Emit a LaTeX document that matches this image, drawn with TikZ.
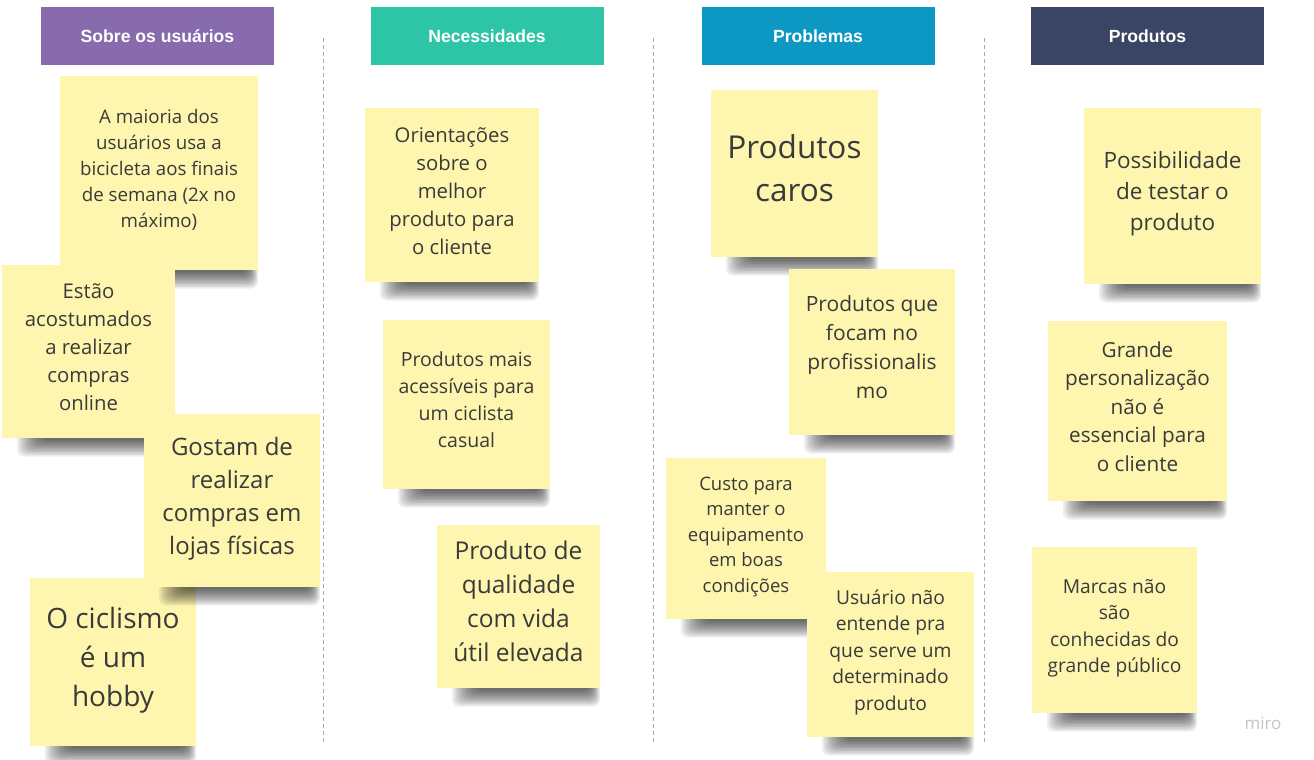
\documentclass[tikz,border=0pt]{standalone}
\usepackage{fontspec}
\setmainfont{Open Sans}
\newfontfamily\hdrfont{Liberation Sans}
\usetikzlibrary{calc}
\definecolor{stickyY}{HTML}{FEF6AF}
\definecolor{stickyT}{HTML}{3A3A3A}
\definecolor{hPurple}{HTML}{876BAD}
\definecolor{hTeal}{HTML}{2EC4A6}
\definecolor{hBlue}{HTML}{0C98C2}
\definecolor{hNavy}{HTML}{3A4565}
\definecolor{sepGray}{HTML}{AAAAAA}
\definecolor{miroGray}{HTML}{C4C4CA}
\tikzset{
  sticky/.style={fill=stickyY, draw=none, inner sep=0pt, outer sep=0pt},
  stext/.style={text=stickyT, align=center, inner sep=0pt},
  header/.style={draw=none, text=white, inner sep=0pt, minimum width=233pt, minimum height=58pt,
    font=\hdrfont\bfseries\fontsize{17.6}{20}\selectfont},
  sepline/.style={draw=sepGray, line width=0.8pt, dash pattern=on 4pt off 3pt},
}
% name, x1, y1, x2, y2, font size, line skip, text
\newcommand\stickynote[8]{%
  \foreach \k in {0,...,11} {
    \fill[black, opacity=0.068, rounded corners=7pt]
      ({#2+38-\k*2.1},{#5-8}) rectangle ({#4-10+\k*0.9},{#5+2+\k*1.5});
  }
  \node[sticky, minimum width={#4-#2}, minimum height={#5-#3}] (#1) at ({(#2+#4)/2},{(#3+#5)/2}) {};
  \node[stext, font=\fontsize{#6}{#7}\selectfont] (#1-t) at ($(#1.center)+(0,-2.5)$) {#8};
}
\begin{document}
\begin{tikzpicture}[x=1pt, y=-1pt]
\useasboundingbox[fill=white] (0,0) rectangle (1314,760);

% separators
\coordinate (s1a) at (323,38); \coordinate (s1b) at (323,745);
\coordinate (s2a) at (653,38); \coordinate (s2b) at (653,745);
\coordinate (s3a) at (984,38); \coordinate (s3b) at (984,745);
\draw[sepline] (s1a) -- (s1b);
\draw[sepline] (s2a) -- (s2b);
\draw[sepline] (s3a) -- (s3b);

% headers
\node[header, fill=hPurple] (h1) at (157.5,36) {Sobre os usuários};
\node[header, fill=hTeal]   (h2) at (487,36) {Necessidades};
\node[header, fill=hBlue]   (h3) at (818,36) {Problemas};
\node[header, fill=hNavy]   (h4) at (1147.5,36) {Produtos};

% column 1
\stickynote{n1}{60}{76}{258}{270}{18.7}{26}{\strut A maioria dos\\usuários usa a\\bicicleta aos finais\\de semana (2x no\\máximo)\strut}
\stickynote{n2}{2}{265}{175}{438}{20.3}{28}{\strut Estão\\acostumados\\a realizar\\compras\\online\strut}
\stickynote{n4}{30}{578}{196}{746}{28}{39}{\strut O ciclismo\\é um\\hobby\strut}
\stickynote{n3}{144}{414}{320}{587}{24}{33}{\strut Gostam de\\realizar\\compras em\\lojas físicas\strut}

% column 2
\stickynote{n5}{365}{108}{539}{282}{20.3}{28}{\strut Orientações\\sobre o\\melhor\\produto para\\o cliente\strut}
\stickynote{n6}{383}{320}{550}{489}{19.5}{27}{\strut Produtos mais\\acessíveis para\\um ciclista\\casual\strut}
\stickynote{n7}{437}{525}{600}{688}{24.5}{34}{\strut Produto de\\qualidade\\com vida\\útil elevada\strut}

% column 3
\stickynote{n8}{711}{90}{878}{257}{31.5}{43}{\strut Produtos\\caros\strut}
\stickynote{n9}{789}{269}{955}{435}{21}{29}{\strut Produtos que\\focam no\\profissionalis\\mo\strut}
\stickynote{n10}{666}{458}{826}{619}{18.5}{25.5}{\strut Custo para\\manter o\\equipamento\\em boas\\condições\strut}
\stickynote{n11}{807}{572}{974}{737}{19.2}{26.5}{\strut Usuário não\\entende pra\\que serve um\\determinado\\produto\strut}

% column 4
\stickynote{n12}{1084}{108}{1261}{284}{22.5}{31}{\strut Possibilidade\\de testar o\\produto\strut}
\stickynote{n13}{1048}{321}{1227}{501}{20.7}{28.5}{\strut Grande\\personalização\\não é\\essencial para\\o cliente\strut}
\stickynote{n14}{1032}{547}{1197}{713}{19.2}{26.5}{\strut Marcas não\\são\\conhecidas do\\grande público\strut}

% logo
\node[text=miroGray, inner sep=0pt, font=\fontsize{17}{17}\selectfont] (miro) at (1263,723) {miro};
\end{tikzpicture}
\end{document}
